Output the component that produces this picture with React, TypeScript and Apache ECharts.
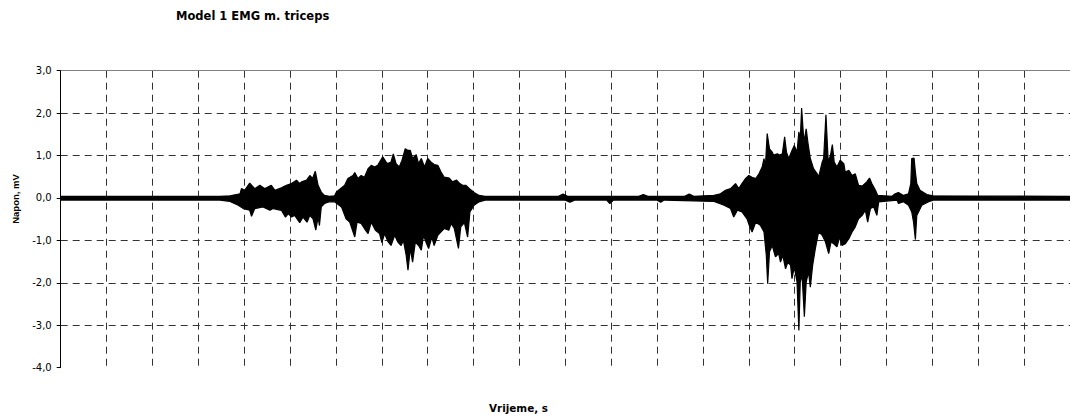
import React, { useEffect, useRef } from "react";
import * as echarts from "echarts";

const TITLE = "Model 1 EMG m. triceps";
const X_NAME = "Vrijeme, s";
const Y_NAME = "Napon, mV";

const Y_MIN = -4;
const Y_MAX = 3;
const Y_STEP = 1;
const X_MIN = 0;
const X_MAX = 22;
const X_STEP = 1;

// Upper envelope of the EMG trace: [time, mV]
const baselineStart: [number, number][] = [[0, 0.04], [3.47, 0.04]];

const burst12Upper: [number, number][] = [
  [3.69, 0.05], [3.91, 0.10], [3.94, 0.22], [4.01, 0.18], [4.12, 0.35], [4.23, 0.22],
  [4.34, 0.30], [4.45, 0.22], [4.59, 0.30], [4.67, 0.18], [4.81, 0.24], [4.92, 0.30],
  [5.03, 0.34], [5.14, 0.42], [5.21, 0.34], [5.25, 0.38], [5.36, 0.42], [5.43, 0.53],
  [5.49, 0.46], [5.55, 0.63], [5.61, 0.30], [5.68, 0.14], [5.75, 0.06], [5.86, 0.04],
  [5.97, 0.05], [6.01, 0.14], [6.19, 0.30], [6.26, 0.46], [6.37, 0.53], [6.41, 0.60],
  [6.48, 0.46], [6.55, 0.53], [6.62, 0.49], [6.70, 0.69], [6.77, 0.77], [6.84, 0.73],
  [6.91, 0.77], [7.02, 0.97], [7.09, 0.85], [7.13, 0.81], [7.20, 0.85], [7.25, 1.04],
  [7.31, 0.81], [7.38, 0.73], [7.44, 0.89], [7.51, 1.16], [7.57, 1.12], [7.62, 1.12],
  [7.67, 0.93], [7.75, 1.02], [7.80, 0.81], [7.86, 0.93], [7.93, 0.73], [8.00, 0.93],
  [8.07, 0.85], [8.14, 0.79], [8.22, 0.77], [8.29, 0.61], [8.36, 0.49], [8.47, 0.47],
  [8.54, 0.38], [8.63, 0.42], [8.70, 0.34], [8.76, 0.30], [8.83, 0.30], [8.91, 0.22],
  [9.01, 0.13], [9.12, 0.06], [9.25, 0.04],
];

const quietUpper: [number, number][] = [
  [10.85, 0.04], [10.95, 0.09], [11.05, 0.04], [12.6, 0.04], [12.7, 0.08], [12.8, 0.04],
  [13.6, 0.04], [13.7, 0.09], [13.8, 0.04],
];

const burst3Upper: [number, number][] = [
  [14.24, 0.06], [14.38, 0.10], [14.49, 0.18], [14.60, 0.22], [14.71, 0.34], [14.78, 0.22],
  [14.85, 0.34], [14.93, 0.46], [15.00, 0.53], [15.07, 0.49], [15.15, 0.46], [15.22, 0.57],
  [15.29, 0.73], [15.33, 0.93], [15.36, 0.73], [15.40, 1.52], [15.45, 1.16], [15.51, 1.08],
  [15.54, 1.01], [15.62, 1.04], [15.67, 1.01], [15.73, 1.04], [15.78, 1.44], [15.82, 1.08],
  [15.87, 0.93], [15.94, 1.12], [15.99, 1.24], [16.05, 1.08], [16.09, 1.56], [16.12, 1.36],
  [16.15, 2.12], [16.20, 1.32], [16.25, 1.63], [16.29, 1.28], [16.34, 0.93], [16.41, 0.69],
  [16.49, 0.57], [16.52, 0.49], [16.60, 0.85], [16.63, 0.93], [16.68, 1.96], [16.73, 0.85],
  [16.78, 1.01], [16.82, 1.26], [16.86, 0.85], [16.92, 0.73], [16.99, 0.89], [17.07, 0.81],
  [17.10, 0.61], [17.18, 0.65], [17.25, 0.53], [17.32, 0.57], [17.39, 0.30], [17.47, 0.28],
  [17.57, 0.38], [17.63, 0.47], [17.68, 0.34], [17.76, 0.18], [17.81, 0.06], [18.12, 0.04],
  [18.19, 0.10], [18.26, 0.13], [18.37, 0.06], [18.48, 0.10], [18.53, 0.34], [18.55, 0.93],
  [18.60, 0.94], [18.63, 0.61], [18.66, 0.34], [18.73, 0.18], [18.88, 0.08], [19.02, 0.05],
];

const baselineEndUpper: [number, number][] = [[22, 0.04]];

// Lower envelope of the EMG trace: [time, mV]
const baselineStartLower: [number, number][] = [[0, -0.05], [3.47, -0.05]];

const burst12Lower: [number, number][] = [
  [3.69, -0.08], [3.87, -0.17], [3.98, -0.25], [4.12, -0.29], [4.16, -0.43], [4.23, -0.25],
  [4.41, -0.21], [4.56, -0.29], [4.63, -0.25], [4.81, -0.29], [4.90, -0.45], [4.96, -0.37],
  [5.03, -0.45], [5.10, -0.41], [5.21, -0.58], [5.28, -0.45], [5.37, -0.57], [5.43, -0.41],
  [5.50, -0.49], [5.56, -0.76], [5.61, -0.45], [5.64, -0.65], [5.68, -0.21], [5.75, -0.13],
  [5.86, -0.09], [5.97, -0.09], [6.12, -0.21], [6.22, -0.49], [6.30, -0.57], [6.41, -0.92],
  [6.46, -0.57], [6.55, -0.60], [6.62, -0.72], [6.70, -0.84], [6.77, -0.57], [6.86, -0.76],
  [6.95, -0.84], [7.00, -1.05], [7.06, -0.84], [7.13, -1.02], [7.20, -1.12], [7.28, -0.88],
  [7.35, -1.04], [7.42, -1.12], [7.47, -1.00], [7.53, -1.35], [7.57, -1.70], [7.62, -1.19],
  [7.67, -1.51], [7.73, -1.04], [7.80, -1.12], [7.86, -1.23], [7.91, -0.88], [7.96, -1.04],
  [8.02, -1.19], [8.09, -0.92], [8.14, -1.12], [8.22, -0.88], [8.29, -0.80], [8.36, -0.72],
  [8.46, -0.76], [8.51, -0.60], [8.58, -0.72], [8.67, -1.19], [8.72, -0.68], [8.80, -0.58],
  [8.87, -0.92], [8.92, -0.33], [9.01, -0.17], [9.12, -0.09], [9.25, -0.05],
];

const quietLower: [number, number][] = [
  [11.0, -0.05], [11.1, -0.10], [11.2, -0.05], [11.9, -0.05], [11.97, -0.13], [12.05, -0.05],
  [13.0, -0.05], [13.08, -0.10], [13.15, -0.05],
];

const burst3Lower: [number, number][] = [
  [14.24, -0.08], [14.46, -0.17], [14.60, -0.25], [14.67, -0.45], [14.75, -0.29], [14.85, -0.33],
  [14.96, -0.49], [15.02, -0.68], [15.07, -0.80], [15.15, -0.57], [15.25, -0.64], [15.33, -0.80],
  [15.38, -1.35], [15.41, -2.02], [15.45, -1.27], [15.51, -1.12], [15.58, -1.39], [15.65, -1.31],
  [15.69, -1.51], [15.74, -1.35], [15.80, -1.67], [15.85, -1.51], [15.91, -1.59], [15.94, -1.90],
  [15.99, -1.63], [16.05, -1.98], [16.09, -3.12], [16.12, -1.98], [16.16, -1.82], [16.21, -2.80],
  [16.25, -1.98], [16.30, -1.74], [16.34, -2.10], [16.39, -1.59], [16.45, -1.19], [16.52, -0.80],
  [16.60, -0.88], [16.67, -1.04], [16.74, -1.31], [16.79, -1.04], [16.85, -1.08], [16.92, -1.15],
  [16.98, -0.92], [17.03, -1.12], [17.10, -1.08], [17.18, -0.96], [17.25, -0.80], [17.32, -0.68],
  [17.39, -0.49], [17.47, -0.41], [17.54, -0.29], [17.59, -0.57], [17.65, -0.25], [17.72, -0.21],
  [17.79, -0.41], [17.83, -0.09], [18.23, -0.05], [18.26, -0.13], [18.37, -0.09], [18.48, -0.17],
  [18.55, -0.33], [18.59, -0.57], [18.63, -0.98], [18.66, -0.41], [18.77, -0.17], [18.92, -0.09],
  [19.02, -0.05],
];

const baselineEndLower: [number, number][] = [[22, -0.05]];

const upperEnvelope = [
  ...baselineStart, ...burst12Upper, ...quietUpper, ...burst3Upper, ...baselineEndUpper,
];
const lowerEnvelope = [
  ...baselineStartLower, ...burst12Lower, ...quietLower, ...burst3Lower, ...baselineEndLower,
];

export default function App() {
  const ref = useRef<HTMLDivElement>(null);

  useEffect(() => {
    if (!ref.current) return;
    const chart = echarts.init(ref.current, undefined, { renderer: "svg" });
    const gridLeft = 60.7;
    const gridTop = 70.7;
    const gridWidth = 1011;
    const gridHeight = 297;

    const envelopeSeries = (name: string, data: [number, number][]) => ({
      name,
      type: "line",
      data,
      symbol: "none",
      silent: true,
      lineStyle: { color: "#000", width: 1.2 },
      areaStyle: { color: "#000", opacity: 1, origin: 0 },
      z: 5,
    });

    chart.setOption({
      animation: false,
      backgroundColor: "#fff",
      title: {
        text: TITLE,
        left: 176,
        top: 10,
        padding: 0,
        textStyle: {
          fontFamily: "DejaVu Sans",
          fontWeight: "bold",
          fontSize: 11.5,
          color: "#000",
        },
      },
      grid: { left: gridLeft, top: gridTop, width: gridWidth, height: gridHeight },
      xAxis: [
        {
          type: "value",
          min: X_MIN,
          max: X_MAX,
          interval: X_STEP,
          axisLine: { show: false },
          axisTick: { show: false },
          axisLabel: { show: false },
          splitLine: {
            show: true,
            showMinLine: false,
            lineStyle: { color: "#333", width: 1, type: [7, 5] },
          },
        },
        {
          type: "value",
          position: "top",
          min: X_MIN,
          max: X_MAX,
          interval: X_STEP,
          axisLine: { show: true, onZero: false, lineStyle: { color: "#808080", width: 1 } },
          axisTick: { show: false },
          axisLabel: { show: false },
          splitLine: { show: false },
        },
      ],
      yAxis: {
        type: "value",
        min: Y_MIN,
        max: Y_MAX,
        interval: Y_STEP,
        axisLine: { show: true, onZero: false, lineStyle: { color: "#000", width: 1 } },
        axisTick: { show: true, inside: false, length: 4, lineStyle: { color: "#000" } },
        axisLabel: {
          formatter: (v: number) => v.toFixed(1).replace(".", ","),
          fontFamily: "DejaVu Sans",
          fontSize: 10,
          color: "#000",
          margin: 9,
        },
        splitLine: {
          show: true,
          showMinLine: false,
          showMaxLine: false,
          lineStyle: { color: "#333", width: 1, type: [7, 5] },
        },
      },
      series: [
        envelopeSeries("upper", upperEnvelope),
        envelopeSeries("lower", lowerEnvelope),
      ],
      graphic: [
        {
          type: "text",
          x: 15.5,
          y: 199,
          rotation: Math.PI / 2,
          style: {
            text: Y_NAME,
            fontFamily: "Liberation Sans",
            fontWeight: "bold",
            fontSize: 9.5,
            fill: "#000",
            align: "center",
            verticalAlign: "middle",
          },
        },
        {
          type: "text",
          x: 518.5,
          y: 408,
          style: {
            text: X_NAME,
            fontFamily: "DejaVu Sans",
            fontWeight: "bold",
            fontSize: 10.4,
            fill: "#000",
            align: "center",
            verticalAlign: "middle",
          },
        },
      ],
    });

    return () => chart.dispose();
  }, []);

  return (
    <div
      ref={ref}
      style={{ position: "absolute", left: 0, top: 0, width: 1070, height: 416, overflow: "hidden" }}
    />
  );
}
